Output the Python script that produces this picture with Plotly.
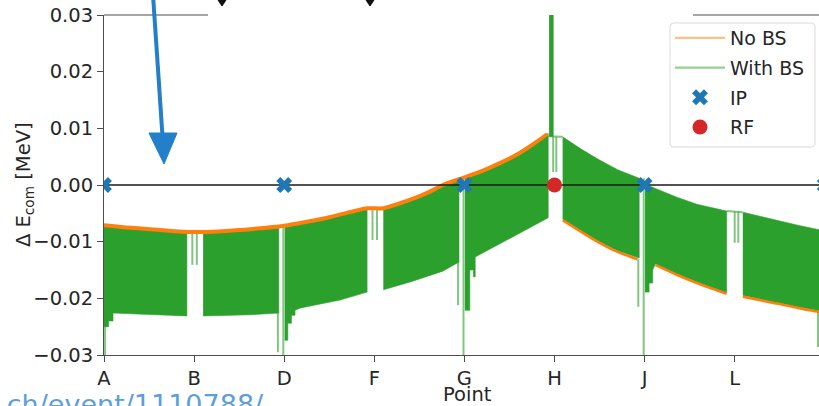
import plotly.graph_objects as go

# ---------------- data ----------------
point_pos = [0, 1, 2, 3, 4, 5, 6, 7, 8]
point_labels = ["A", "B", "D", "F", "G", "H", "J", "L", "A"]
y_ticks = [-0.03, -0.02, -0.01, 0.0, 0.01, 0.02, 0.03]

# "No BS" curve, before the RF (H) and after it (None = break in the line)
nobs_x_pre = [0.00, 0.25, 0.51, 0.75, 0.955, 1.10, 1.35, 1.62, 2.00, 2.25, 2.50, 2.75, 2.92, 3.10,
              3.40, 3.60, 3.76, 4.01, 4.20, 4.40, 4.60, 4.80, 4.92]
nobs_y_pre = [-0.0071, -0.0075, -0.0078, -0.0081, -0.0083, -0.0083, -0.0081, -0.0078, -0.0072, -0.0065,
              -0.0057, -0.0047, -0.0041, -0.0041,
              -0.0026, -0.0013, 0.0000, 0.0014, 0.0025, 0.0039, 0.0055, 0.0076, 0.0090]
nobs_x_post = [5.09, 5.30, 5.50, 5.70, 5.92, None, 6.12, 6.35, 6.58, 6.91, None,
               7.09, 7.30, 7.50, 7.70, 7.94]
nobs_y_post = [-0.0062, -0.0083, -0.0102, -0.0118, -0.0131, None, -0.0141, -0.0158, -0.0173, -0.0192, None,
               -0.0197, -0.0204, -0.0210, -0.0217, -0.0224]

# "With BS": envelope of the fast oscillation, per segment (None = break)
bs_x = [0.00, 0.05, 0.05, 0.10, 0.10, 0.51, 0.92, None,
        1.10, 1.62, 1.94, None,
        2.005, 2.04, 2.04, 2.08, 2.08, 2.12, 2.12, 2.18, 2.62, 2.92, None,
        3.10, 3.40, 3.76, 3.94, None,
        4.005, 4.06, 4.06, 4.10, 4.10, 4.12, 4.12, 4.50, 4.93, None,
        5.09, 5.30, 5.50, 5.70, 5.94, None,
        6.005, 6.05, 6.05, 6.09, 6.09, 6.12, 6.35, 6.58, 6.91, None,
        7.09, 7.30, 7.50, 7.70, 7.94]
bs_upper = [-0.0071, -0.0072, -0.0072, -0.0073, -0.0073, -0.0078, -0.0082, None,
            -0.0083, -0.0078, -0.0072, None,
            -0.0072, -0.0071, -0.0071, -0.0070, -0.0070, -0.0069, -0.0069, -0.0067, -0.0053, -0.0041, None,
            -0.0041, -0.0026, 0.0000, 0.0012, None,
            0.0014, 0.0017, 0.0017, 0.0019, 0.0019, 0.0020, 0.0020, 0.0048, 0.0091, None,
            0.0085, 0.0063, 0.0044, 0.0027, 0.0012, None,
            0.0001, -0.0001, -0.0001, -0.0004, -0.0004, -0.0006, -0.0021, -0.0034, -0.0046, None,
            -0.0048, -0.0056, -0.0064, -0.0071, -0.0079]
bs_lower = [-0.0250, -0.0250, -0.0240, -0.0240, -0.0226, -0.0229, -0.0231, None,
            -0.0231, -0.0229, -0.0226, None,
            -0.0274, -0.0274, -0.0244, -0.0244, -0.0230, -0.0230, -0.0221, -0.0217, -0.0203, -0.0189, None,
            -0.0185, -0.0171, -0.0152, -0.0136, None,
            -0.0221, -0.0221, -0.0150, -0.0150, -0.0162, -0.0162, -0.0127, -0.0095, -0.0058, None,
            -0.0060, -0.0081, -0.0100, -0.0116, -0.0129, None,
            -0.0189, -0.0189, -0.0173, -0.0173, -0.0150, -0.0139, -0.0156, -0.0171, -0.0190, None,
            -0.0195, -0.0202, -0.0208, -0.0215, -0.0222]

# thin "With BS" excursions (IP spikes, sparse straight sections)
bs_thin_x = [0.012, 0.012, None, 1.93, 1.93, None, 1.99, 1.99, None,
             3.93, 3.93, None, 3.99, 3.99, None, 5.93, 5.93, None, 5.99, 5.99, None,
             7.925, 7.925, None,
             0.98, 0.98, None, 1.03, 1.03, None, 2.98, 2.98, None, 3.03, 3.03, None,
             7.00, 7.00, None, 7.04, 7.04, None, 6.91, 7.09, None,
             4.985, 4.985, None, 5.02, 5.02, None, 4.93, 5.09]
bs_thin_y = [-0.0226, -0.035, None, -0.0226, -0.0295, None, -0.0073, -0.035, None,
             -0.0136, -0.0212, None, 0.0012, -0.035, None, -0.0131, -0.0215, None, 0.0012, -0.035, None,
             -0.0155, -0.0286, None,
             -0.0083, -0.0141, None, -0.0083, -0.0141, None, -0.0041, -0.0097, None, -0.0041, -0.0097, None,
             -0.0047, -0.0102, None, -0.0047, -0.0102, None, -0.0046, -0.0048, None,
             0.0085, 0.0023, None, 0.0085, 0.0023, None, 0.0086, 0.0085]
# upward excursion at the RF
bs_rf_x = [4.965, 4.965]
bs_rf_y = [0.0085, 0.035]

ip_x = [0, 2, 4, 6, 8]
ip_y = [0, 0, 0, 0, 0]
rf_x = [5]
rf_y = [0]

# ---------------- figure ----------------
W, H = 819, 406
L_, T_, B_ = 104, 15, 51
plot_w = W - L_
plot_h = H - T_ - B_
px_per_unit = 90.1
FONT = "DejaVu Sans"
TXT = "#262626"


def px2paper(px, py):
    return (px - L_) / plot_w, (H - B_ - py) / plot_h


def split(xs, *cols):
    out, seg = [], []
    for i, x in enumerate(xs):
        if x is None:
            if seg:
                out.append(seg)
            seg = []
            continue
        seg.append((x,) + tuple(c[i] for c in cols))
    if seg:
        out.append(seg)
    return out


poly_x, poly_y = [], []
for seg in split(bs_x, bs_upper, bs_lower):
    xs = [s[0] for s in seg]
    up = [s[1] for s in seg]
    lo = [s[2] for s in seg]
    poly_x += xs + xs[::-1] + [None]
    poly_y += up + lo[::-1] + [None]

GREEN = "#2ca02c"
ORANGE = "#ff7f0e"

fig = go.Figure()
fig.add_trace(go.Scatter(x=poly_x, y=poly_y, mode="lines", fill="toself", fillcolor=GREEN,
                         line=dict(color=GREEN, width=0.6), showlegend=False, hoverinfo="skip"))
fig.add_trace(go.Scatter(x=bs_thin_x, y=bs_thin_y, mode="lines",
                         line=dict(color="rgba(44,160,44,0.6)", width=2), showlegend=False, hoverinfo="skip"))
fig.add_trace(go.Scatter(x=bs_rf_x, y=bs_rf_y, mode="lines",
                         line=dict(color=GREEN, width=4.5), showlegend=False, hoverinfo="skip"))
fig.add_trace(go.Scatter(x=nobs_x_pre, y=nobs_y_pre, mode="lines",
                         line=dict(color=ORANGE, width=4, shape="spline", smoothing=0.6),
                         showlegend=False, hoverinfo="skip"))
fig.add_trace(go.Scatter(x=nobs_x_post, y=nobs_y_post, mode="lines",
                         line=dict(color=ORANGE, width=2.6, shape="spline", smoothing=0.6),
                         showlegend=False, hoverinfo="skip"))
# zero reference line
fig.add_trace(go.Scatter(x=[0, 8], y=[0, 0], mode="lines", line=dict(color="#1a1a1a", width=1.4),
                         showlegend=False, hoverinfo="skip"))
# legend entries
fig.add_trace(go.Scatter(x=[None], y=[None], mode="lines", name="No BS", legendgroup="a",
                         line=dict(color="rgba(255,127,14,0.5)", width=2.2)))
fig.add_trace(go.Scatter(x=[None], y=[None], mode="lines", name="With BS", legendgroup="b",
                         line=dict(color="rgba(44,160,44,0.5)", width=2.2)))
fig.add_trace(go.Scatter(x=ip_x, y=ip_y, mode="markers", name="IP", legendgroup="c",
                         marker=dict(symbol="x", size=14, color="#1f77b4", line=dict(width=0))))
fig.add_trace(go.Scatter(x=rf_x, y=rf_y, mode="markers", name="RF", legendgroup="d",
                         marker=dict(symbol="circle", size=15, color="#d62728", line=dict(width=0))))

axis_common = dict(showgrid=False, zeroline=False, showline=True, linecolor="#4d4d4d", linewidth=1,
                   ticks="outside", ticklen=6, tickwidth=1, tickcolor="#4d4d4d",
                   tickfont=dict(family=FONT, size=19.5, color=TXT))

fig.update_layout(
    width=W, height=H,
    margin=dict(l=L_, r=0, t=T_, b=B_, pad=0),
    paper_bgcolor="white", plot_bgcolor="white",
    font=dict(family=FONT, color=TXT),
    xaxis=dict(range=[0, plot_w / px_per_unit], tickvals=point_pos, ticktext=point_labels, **axis_common),
    yaxis=dict(range=[-0.03, 0.03], tickvals=y_ticks, tickformat=".2f", **axis_common),
    legend=dict(x=px2paper(670, 0)[0], y=px2paper(0, 19)[1], xanchor="left", yanchor="top",
                bgcolor="rgba(0,0,0,0)", borderwidth=0, itemwidth=50,
                font=dict(family=FONT, size=19, color=TXT), tracegroupgap=2, traceorder="grouped"),
    showlegend=True,
)

# legend frame (rounded, like the original)
lx0, ly0, lx1, ly1, r = 670, 23, 815, 147, 4


def P(px, py):
    a, b = px2paper(px, py)
    return f"{a:.5f} {b:.5f}"


frame = (f"M {P(lx0 + r, ly0)} L {P(lx1 - r, ly0)} Q {P(lx1, ly0)} {P(lx1, ly0 + r)} "
         f"L {P(lx1, ly1 - r)} Q {P(lx1, ly1)} {P(lx1 - r, ly1)} L {P(lx0 + r, ly1)} "
         f"Q {P(lx0, ly1)} {P(lx0, ly1 - r)} L {P(lx0, ly0 + r)} Q {P(lx0, ly0)} {P(lx0 + r, ly0)} Z")
fig.add_shape(type="path", xref="paper", yref="paper", path=frame,
              fillcolor="rgba(255,255,255,0.85)", line=dict(color="#d9d9d9", width=1))

# axis titles
fig.add_annotation(text="Point", xref="x", yref="paper", x=4.03, y=px2paper(0, 380.5)[1],
                   yanchor="top", showarrow=False, font=dict(family=FONT, size=19.5, color=TXT))
fig.add_annotation(text="Δ E<sub>com</sub> [MeV]", xref="paper", yref="paper",
                   x=px2paper(24, 0)[0], y=0.5, xanchor="center", yanchor="middle",
                   textangle=-90, showarrow=False,
                   font=dict(family=FONT, size=19.5, color=TXT))

# partial top spine (the rest is covered by a title box in the original)
for a, b in [(104, 208), (693, 819)]:
    x0, _ = px2paper(a, 15)
    x1, _ = px2paper(b, 15)
    fig.add_shape(type="line", xref="paper", yref="paper", x0=x0, x1=x1, y0=1, y1=1,
                  line=dict(color="#4d4d4d", width=1))

# bottoms of the cropped title glyphs at the very top
for cx in (222, 370):
    a = px2paper(cx - 4, 0)
    b = px2paper(cx + 4, 0)
    c = px2paper(cx, 6)
    fig.add_shape(type="path", xref="paper", yref="paper",
                  path=f"M {a[0]} {a[1]} L {b[0]} {b[1]} L {c[0]} {c[1]} Z",
                  fillcolor="#111111", line=dict(color="#111111", width=1))

# blue annotation arrow
ARROW = "#2180c9"
sx0, sy0 = px2paper(153, -5)
sx1, sy1 = px2paper(162.5, 136)
fig.add_shape(type="line", xref="paper", yref="paper", x0=sx0, y0=sy0, x1=sx1, y1=sy1,
              line=dict(color=ARROW, width=4))
t1 = px2paper(149, 133)
t2 = px2paper(177, 133)
t3 = px2paper(164, 164)
fig.add_shape(type="path", xref="paper", yref="paper",
              path=f"M {t1[0]} {t1[1]} L {t2[0]} {t2[1]} L {t3[0]} {t3[1]} Z",
              fillcolor=ARROW, line=dict(color=ARROW, width=1))

# cropped link text at the bottom
fig.add_annotation(text="cern.ch/event/1110788/", xref="paper", yref="paper",
                   x=px2paper(266, 0)[0], y=px2paper(0, 387)[1], xanchor="right", yanchor="top",
                   showarrow=False, font=dict(family=FONT, size=27, color="#5d9fdc"))

fig.write_html("out.html")
